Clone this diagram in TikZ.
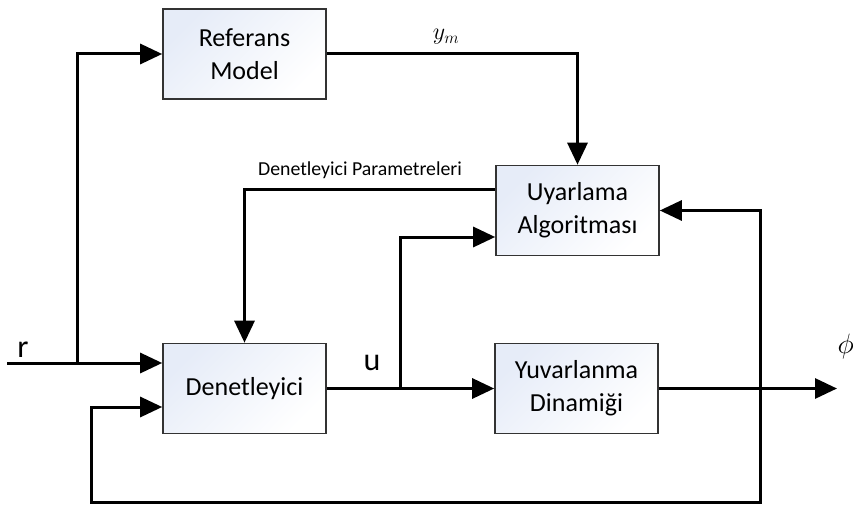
\RequirePackage{fix-cm}
\documentclass[tikz,border=0pt]{standalone}
\usepackage{fontspec}
\setmainfont{Carlito}
\usetikzlibrary{arrows.meta,calc}
\definecolor{boxtop}{RGB}{230,236,248}

\begin{document}
\begin{tikzpicture}[x=1pt,y=-1pt,
  block/.style={draw=black!80,line width=1.6pt,minimum width=163pt,minimum height=90pt,
    align=center,top color=boxtop,bottom color=white,shading angle=45,
    font=\fontsize{26}{33}\selectfont},
  sig/.style={line width=3pt},
  arr/.style={sig,-{Triangle[length=22pt,width=20pt]}}]

\clip (0,0) rectangle (853,505);

% Blocks
\node[block] (Ref) at (244.5,54) {Referans\\Model};
\node[block] (Uya) at (577.5,210.5) {Uyarlama\\Algoritması};
\node[block] (Den) at (244.5,388.5) {Denetleyici};
\node[block] (Yuv) at (576.5,388.5) {Yuvarlanma\\Dinamiği};

% Branch points
\coordinate (rIn) at (7,363);
\coordinate (rSplit) at (77,363);
\coordinate (uSplit) at (400,388.5);
\coordinate (ySplit) at (760,388.5);
\coordinate (yOut) at (837,388.5);
\coordinate (fbLow) at (758,502);
\coordinate (fbLeft) at (91,407);

% Reference input
\draw[sig] (rIn) -- (rSplit);
\draw[arr] (rSplit) -- (Den.west |- rSplit);
\draw[arr] (rSplit) |- (Ref.west);
\node (r) at (23,350) {\fontsize{32}{32}\selectfont r};

% Model output
\draw[arr] (Ref.east) -| (Uya.north);
\node (ym) at (446,37) {\fontsize{24}{24}\selectfont$y_m$};

% Controller parameters
\draw[arr] (Uya.west |- 0,189) -| (Den.north);
\node (par) at (360,170) {\fontsize{19.8}{22}\selectfont Denetleyici Parametreleri};

% Control signal
\draw[arr] (Den.east) -- (Yuv.west);
\draw[arr] (uSplit) |- (Uya.west |- 0,237);
\node (u) at (372,363) {\fontsize{32}{32}\selectfont u};

% Plant output
\draw[arr] (Yuv.east) -- (yOut);
\draw[arr] (ySplit) |- (Uya.east);
\node[anchor=west] (phi) at (834,346) {\fontsize{28}{28}\selectfont$\phi$};

% Feedback
\draw[arr] (ySplit) -- (ySplit |- fbLow) -| (fbLeft) -- (Den.west |- fbLeft);

\end{tikzpicture}
\end{document}
